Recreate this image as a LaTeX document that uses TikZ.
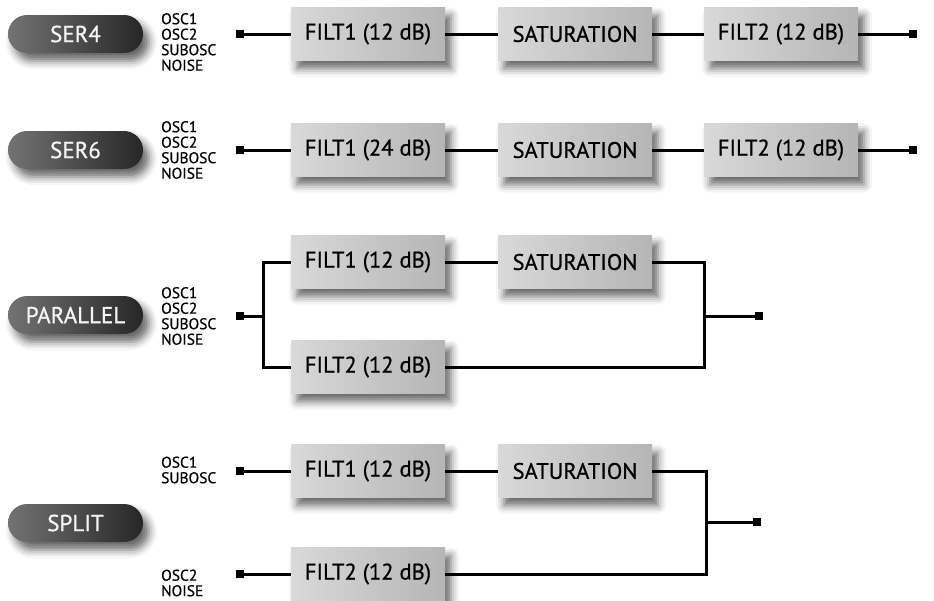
\documentclass[tikz,border=0pt]{standalone}
\usepackage{fontspec}
\setmainfont{PT Sans}
\newfontfamily\lblfont{PT Sans}[FakeBold=0.6]
\newfontfamily\boxfont{PT Sans}[FakeBold=0.8]
\usetikzlibrary{shadows.blur,calc}
\tikzset{
  x=1pt,y=-1pt,
  blk/.style={draw=none, minimum width=154pt, minimum height=53pt, inner sep=0pt,
    left color=black!15, right color=black!29,
    blur shadow={shadow xshift=6pt, shadow yshift=-8pt, shadow blur radius=8pt, shadow opacity=60},
    font=\boxfont\fontsize{22.5}{24}\selectfont, text=black},
  pill/.style={draw=none, minimum width=135pt, minimum height=38pt, inner sep=0pt,
    rounded corners=19pt, left color=black!55, right color=black!85,
    blur shadow={shadow xshift=6pt, shadow yshift=-8pt, shadow blur radius=8pt, shadow opacity=60},
    font=\boxfont\fontsize{23}{24}\selectfont, text=black!4},
  srclbl/.style={anchor=west, inner sep=0pt, align=left, font=\lblfont\fontsize{15.5}{15.5}\selectfont, text=black},
  term/.style={fill=black, draw=none, minimum size=8pt, inner sep=0pt},
  conn/.style={line width=3pt, draw=black, line join=miter, line cap=butt},
}
\begin{document}
\begin{tikzpicture}
\useasboundingbox (0,0) rectangle (934,600);
% ---------- SER4 ----------
\node[pill] (p1) at (75.5,34) {SER4};
\node[srclbl] (l1) at (161,42) {OSC1\\OSC2\\SUBOSC\\NOISE};
\node[blk] (a1) at (368,34) {FILT1 (12 dB)};
\node[blk] (b1) at (575,34) {SATURATION};
\node[blk] (c1) at (781,34) {FILT2 (12 dB)};
\node[term] (i1) at (240,34) {};
\node[term] (o1) at (913,34) {};
\draw[conn] (i1.center) -- (a1.west);
\draw[conn] (a1.east) -- (b1.west);
\draw[conn] (b1.east) -- (c1.west);
\draw[conn] (c1.east) -- (o1.center);
% ---------- SER6 ----------
\node[pill] (p2) at (75.5,150) {SER6};
\node[srclbl] (l2) at (161,150) {OSC1\\OSC2\\SUBOSC\\NOISE};
\node[blk] (a2) at (368,150) {FILT1 (24 dB)};
\node[blk] (b2) at (575,150) {SATURATION};
\node[blk] (c2) at (781,150) {FILT2 (12 dB)};
\node[term] (i2) at (240,150) {};
\node[term] (o2) at (913,150) {};
\draw[conn] (i2.center) -- (a2.west);
\draw[conn] (a2.east) -- (b2.west);
\draw[conn] (b2.east) -- (c2.west);
\draw[conn] (c2.east) -- (o2.center);
% ---------- PARALLEL ----------
\node[pill] (p3) at (75.5,315) {PARALLEL};
\node[srclbl] (l3) at (161,316) {OSC1\\OSC2\\SUBOSC\\NOISE};
\node[blk] (a3) at (368,262) {FILT1 (12 dB)};
\node[blk] (b3) at (575,262) {SATURATION};
\node[blk] (c3) at (368,367) {FILT2 (12 dB)};
\node[term] (i3) at (240,316) {};
\node[term] (o3) at (759,316) {};
\coordinate (jl3) at (263,316);
\coordinate (jr3) at (704,316);
\draw[conn] (i3.center) -- (jl3);
\draw[conn] (a3.west) -| (jl3) |- (c3.west);
\draw[conn] (a3.east) -- (b3.west);
\draw[conn] (b3.east) -| (jr3) |- (c3.east);
\draw[conn] (jr3) -- (o3.center);
% ---------- SPLIT ----------
\node[pill] (p4) at (75.5,523) {SPLIT};
\node[srclbl] (l4a) at (161,470) {OSC1\\SUBOSC};
\node[srclbl] (l4b) at (161,583) {OSC2\\NOISE};
\node[blk] (a4) at (368,471) {FILT1 (12 dB)};
\node[blk] (b4) at (575,471) {SATURATION};
\node[blk] (c4) at (368,574) {FILT2 (12 dB)};
\node[term] (i4a) at (240,471) {};
\node[term] (i4b) at (240,574) {};
\node[term] (o4) at (757,522) {};
\coordinate (jr4) at (706,522);
\draw[conn] (i4a.center) -- (a4.west);
\draw[conn] (i4b.center) -- (c4.west);
\draw[conn] (a4.east) -- (b4.west);
\draw[conn] (b4.east) -| (jr4) |- (c4.east);
\draw[conn] (jr4) -- (o4.center);
\end{tikzpicture}
\end{document}
